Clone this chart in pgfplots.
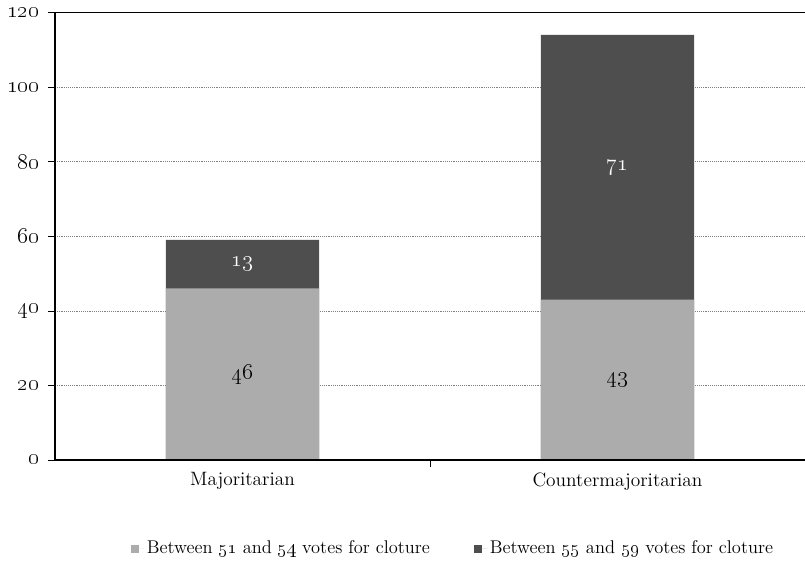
\documentclass[border=0pt]{standalone}
\usepackage{pgfplots}
\pgfplotsset{compat=1.18}
\definecolor{lightbar}{RGB}{172,172,172}
\definecolor{darkbar}{RGB}{78,78,78}
\newcommand{\f}{\fontsize{14.5}{17}\selectfont}
\newcommand{\fl}{\fontsize{13.8}{16}\selectfont}
\newcommand{\fn}{\fontsize{17.5}{20}\selectfont}
\newcommand{\os}[1]{{\fontencoding{TS1}\selectfont #1}}
\begin{document}
\begin{tikzpicture}
\begin{axis}[
  at={(0,0)}, anchor=south west,
  scale only axis, width=562.5pt, height=335.6pt,
  xmin=-0.5, xmax=1.5, ymin=0, ymax=120,
  clip=false,
  axis line style={draw=none},
  xtick={0,1}, xticklabels={Majoritarian,Countermajoritarian},
  minor xtick={0.5},
  xtick pos=bottom, ytick pos=left,
  major x tick style={draw=none},
  tick align=outside,
  major tick length=5pt, minor tick length=5pt,
  tick style={black, line width=0.4pt},
  ytick={0,20,40,60,80,100,120},
  yticklabels={\os{0},\os{20},\os{40},\os{60},\os{80},\os{100},\os{120}},
  yticklabel style={font=\fn, xshift=-3pt},
  xticklabel style={font=\f, yshift=-1pt},
  ymajorgrids, grid style={densely dotted, gray, line width=0.5pt},
  legend columns=2,
  legend style={at={(0.531,-0.197)}, anchor=center, draw=none, fill=none, font=\fl,
    /tikz/every even column/.append style={column sep=31pt}},
  legend cell align=left,
  legend image code/.code={\path[draw=none] (0pt,0pt) -- (10pt,0pt); \fill[#1, draw=none] (0pt,-3.5pt) rectangle (6pt,2.5pt);},
]
\addplot[ybar, bar width=115pt, bar shift=0pt, fill=darkbar, draw=none, forget plot]
  coordinates {(0,59) (1,114)};
\addplot[ybar, bar width=115pt, bar shift=0pt, fill=lightbar, draw=none, forget plot]
  coordinates {(0,46) (1,43)};
\addplot[draw=none, mark=none, forget plot, point meta=explicit symbolic,
  nodes near coords={\os{\pgfplotspointmeta}},
  every node near coord/.append style={anchor=center, font=\fn, text=black}]
  coordinates {(0,23) [46] (1,21.5) [43]};
\addplot[draw=none, mark=none, forget plot, point meta=explicit symbolic,
  nodes near coords={\os{\pgfplotspointmeta}},
  every node near coord/.append style={anchor=center, font=\fn, text=white}]
  coordinates {(0,52.5) [13] (1,78.5) [71]};
\addlegendimage{fill=lightbar, draw=none}
\addlegendentry{Between \os{51} and \os{54} votes for cloture}
\addlegendimage{fill=darkbar, draw=none}
\addlegendentry{Between \os{55} and \os{59} votes for cloture}
\draw[black, line width=1.1pt] (rel axis cs:0,0) -- (rel axis cs:1,0);
\draw[black, line width=1.1pt] (rel axis cs:0,0) -- (rel axis cs:0,1) -- (rel axis cs:1,1);
\end{axis}
\pgfresetboundingbox
\useasboundingbox (-41.25pt,-75.75pt) rectangle (562.5pt,345pt);
\end{tikzpicture}
\end{document}
